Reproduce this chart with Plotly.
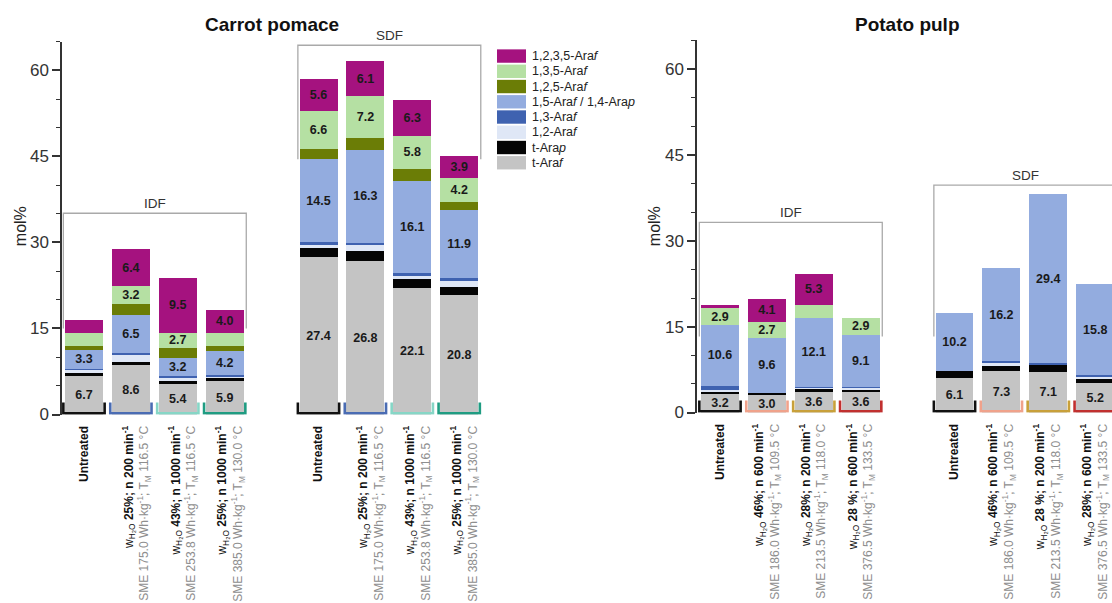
import plotly.graph_objects as go

W, H = 1112, 603
FONT = "Liberation Sans, Arial, sans-serif"

# ---- stack components, bottom to top ----
series_names = [
    "t-Ara<i>f</i>",
    "t-Ara<i>p</i>",
    "1,2-Ara<i>f</i>",
    "1,3-Ara<i>f</i>",
    "1,5-Ara<i>f</i> / 1,4-Ara<i>p</i>",
    "1,2,5-Ara<i>f</i>",
    "1,3,5-Ara<i>f</i>",
    "1,2,3,5-Ara<i>f</i>",
]
series_colors = ["#c4c4c4", "#050505", "#dfe7f6", "#3f62b0",
                 "#93acdf", "#6b7d06", "#b5e0a3", "#a5127f"]

# bar slots: IDF samples 0-3, SDF samples 5-8
positions = [0, 1, 2, 3, 5, 6, 7, 8]

# ---- Carrot pomace (mol%) ----
carrot_t_araf = [6.7, 8.6, 5.4, 5.9, 27.4, 26.8, 22.1, 20.8]
carrot_t_arap = [0.6, 0.6, 0.4, 0.4, 1.6, 1.7, 1.6, 1.5]
carrot_a12 = [0.5, 1.3, 0.7, 0.4, 0.5, 1.1, 0.4, 1.0]
carrot_a13 = [0.2, 0.3, 0.2, 0.2, 0.5, 0.3, 0.5, 0.5]
carrot_a15 = [3.3, 6.5, 3.2, 4.2, 14.5, 16.3, 16.1, 11.9]
carrot_a125 = [0.6, 1.9, 1.7, 0.8, 1.8, 2.1, 2.1, 1.3]
carrot_a135 = [2.4, 3.2, 2.7, 2.4, 6.6, 7.2, 5.8, 4.2]
carrot_a1235 = [2.1, 6.4, 9.5, 4.0, 5.6, 6.1, 6.3, 3.9]

# which segments carry a value label (1 = labelled)
carrot_lab_t_araf = [1, 1, 1, 1, 1, 1, 1, 1]
carrot_lab_a15 = [1, 1, 1, 1, 1, 1, 1, 1]
carrot_lab_a135 = [0, 1, 1, 0, 1, 1, 1, 1]
carrot_lab_a1235 = [0, 1, 1, 1, 1, 1, 1, 1]

# ---- Potato pulp (mol%) ----
potato_t_araf = [3.2, 3.0, 3.6, 3.6, 6.1, 7.3, 7.1, 5.2]
potato_t_arap = [0.5, 0.4, 0.5, 0.4, 1.1, 0.9, 1.3, 0.7]
potato_a12 = [0.3, 0.0, 0.15, 0.4, 0.0, 0.5, 0.0, 0.4]
potato_a13 = [0.7, 0.1, 0.2, 0.1, 0.0, 0.3, 0.3, 0.3]
potato_a15 = [10.6, 9.6, 12.1, 9.1, 10.2, 16.2, 29.4, 15.8]
potato_a125 = [0.0, 0.0, 0.0, 0.0, 0.0, 0.0, 0.0, 0.0]
potato_a135 = [2.9, 2.7, 2.3, 2.9, 0.0, 0.0, 0.0, 0.0]
potato_a1235 = [0.5, 4.1, 5.3, 0.0, 0.0, 0.0, 0.0, 0.0]

potato_lab_t_araf = [1, 1, 1, 1, 1, 1, 1, 1]
potato_lab_a15 = [1, 1, 1, 1, 1, 1, 1, 1]
potato_lab_a135 = [1, 1, 0, 1, 0, 0, 0, 0]
potato_lab_a1235 = [0, 1, 1, 0, 0, 0, 0, 0]

# ---- treatment conditions for the category labels ----
carrot_w = ["25%", "43%", "25%"]
carrot_n = ["200", "1000", "1000"]
carrot_sme = ["175.0", "253.8", "385.0"]
carrot_tm = ["116.5", "116.5", "130.0"]

potato_idf_w = ["46%", "28%", "28 %"]
potato_sdf_w = ["46%", "28 %", "28%"]
potato_n = ["600", "200", "600"]
potato_sme = ["186.0", "213.5", "376.5"]
potato_tm = ["109.5", "118.0", "133.5"]

carrot_bracket_colors = ["#111111", "#4a6cb3", "#86d6c6", "#1f9c82"]
potato_bracket_colors = ["#111111", "#f0a28b", "#c8a03a", "#c1302f"]

# fraction brackets (IDF, SDF): top line and end of the side lines, mol%
carrot_group_top = [35.1, 64.4]
carrot_group_side = [15.0, 44.5]
potato_group_top = [33.2, 39.7]
potato_group_side = [13.3, 13.3]
group_names = ["IDF", "SDF"]


def px(x):
    return x / W


def py(y):
    return 1 - y / H


def treated(w, n, sme, tm):
    return (f"w<sub>H₂O</sub> <b>{w}; n {n} min<sup>-1</sup></b><br>"
            f"<span style='color:#8e8e8e'>SME {sme} Wh·kg<sup>-1</sup>; "
            f"T<sub>M</sub> {tm} °C</span>")


untreated = "<b>Untreated</b>"
carrot_ticks = [untreated] + [treated(*a) for a in zip(carrot_w, carrot_n, carrot_sme, carrot_tm)]
carrot_ticks = carrot_ticks + carrot_ticks
potato_ticks = ([untreated] + [treated(*a) for a in zip(potato_idf_w, potato_n, potato_sme, potato_tm)]
                + [untreated] + [treated(*a) for a in zip(potato_sdf_w, potato_n, potato_sme, potato_tm)])


def label_positions(shift):
    # two-line labels are nudged sideways from their bar centre
    return [p + (0.0 if i % 4 == 0 else shift) for i, p in enumerate(positions)]


carrot_series = [carrot_t_araf, carrot_t_arap, carrot_a12, carrot_a13,
                 carrot_a15, carrot_a125, carrot_a135, carrot_a1235]
carrot_labels = [carrot_lab_t_araf, None, None, None,
                 carrot_lab_a15, None, carrot_lab_a135, carrot_lab_a1235]
potato_series = [potato_t_araf, potato_t_arap, potato_a12, potato_a13,
                 potato_a15, potato_a125, potato_a135, potato_a1235]
potato_labels = [potato_lab_t_araf, None, None, None,
                 potato_lab_a15, None, potato_lab_a135, potato_lab_a1235]

fig = go.Figure()

for series, labels, xa, ya in [(carrot_series, carrot_labels, "x", "y"),
                               (potato_series, potato_labels, "x2", "y2")]:
    for k, vals in enumerate(series):
        bar = dict(
            x=positions, y=vals, name=series_names[k],
            marker=dict(color=series_colors[k], line=dict(width=0)),
            xaxis=xa, yaxis=ya, showlegend=False, hoverinfo="skip",
        )
        if labels[k] is not None:
            bar.update(
                text=[f"<b>{v:.1f}</b>" if f else None for v, f in zip(vals, labels[k])],
                textposition="inside", insidetextanchor="middle",
                textangle=0, constraintext="none",
                textfont=dict(family=FONT, size=12.5, color="#1a1a1a"),
            )
        fig.add_trace(go.Bar(**bar))

shapes = []
annotations = []

# coloured sample brackets under each bar
for xa, ya, cols in [("x", "y", carrot_bracket_colors), ("x2", "y2", potato_bracket_colors)]:
    for i, p in enumerate(positions):
        c = cols[i % 4]
        shapes.append(dict(
            type="path", xref=xa, yref=ya, layer="above",
            path=f"M {p - 0.44},2.1 L {p - 0.44},0.2 L {p + 0.44},0.2 L {p + 0.44},2.1",
            line=dict(color=c, width=2.6)))

# IDF / SDF fraction brackets
for xa, ya, tops, sides in [("x", "y", carrot_group_top, carrot_group_side),
                            ("x2", "y2", potato_group_top, potato_group_side)]:
    for g in range(2):
        x0 = positions[4 * g] - 0.44
        x1 = positions[4 * g + 3] + 0.46
        shapes.append(dict(
            type="path", xref=xa, yref=ya, layer="below",
            path=f"M {x0},{sides[g]} L {x0},{tops[g]} L {x1},{tops[g]} L {x1},{sides[g]}",
            line=dict(color="#a9a9a9", width=1.3)))
        annotations.append(dict(
            x=(x0 + x1) / 2, y=tops[g], xref=xa, yref=ya, text=group_names[g],
            showarrow=False, xanchor="center", yanchor="bottom",
            font=dict(family=FONT, size=13.5, color="#333333")))

# legend, top of the stack first
for i, k in enumerate(reversed(range(len(series_names)))):
    yc = 57 + 15.5 * i
    shapes.append(dict(type="rect", xref="paper", yref="paper",
                       x0=px(497), x1=px(526), y0=py(yc + 6.8), y1=py(yc - 6.8),
                       fillcolor=series_colors[k], line=dict(width=0)))
    annotations.append(dict(x=px(530), y=py(yc), xref="paper", yref="paper",
                            text=series_names[k], showarrow=False,
                            xanchor="left", yanchor="middle",
                            font=dict(family=FONT, size=12.5, color="#222222")))

# panel titles and y-axis titles
annotations += [
    dict(x=px(272), y=py(25), xref="paper", yref="paper", text="<b>Carrot pomace</b>",
         showarrow=False, xanchor="center", yanchor="middle",
         font=dict(family=FONT, size=19, color="#111111")),
    dict(x=px(907), y=py(25), xref="paper", yref="paper", text="<b>Potato pulp</b>",
         showarrow=False, xanchor="center", yanchor="middle",
         font=dict(family=FONT, size=19, color="#111111")),
    dict(x=px(20), y=py(230), xref="paper", yref="paper", text="mol%", textangle=-90,
         showarrow=False, xanchor="center", yanchor="middle",
         font=dict(family=FONT, size=16, color="#222222")),
    dict(x=px(654), y=py(230), xref="paper", yref="paper", text="mol%", textangle=-90,
         showarrow=False, xanchor="center", yanchor="middle",
         font=dict(family=FONT, size=16, color="#222222")),
]

yaxis_style = dict(
    range=[0, 65], showgrid=False, zeroline=False,
    showline=True, linecolor="#333333", linewidth=1.5,
    ticks="outside", ticklen=8, tickwidth=1.5, tickcolor="#333333",
    tickvals=[0, 15, 30, 45, 60],
    minor=dict(ticks="outside", ticklen=4, tickwidth=1.2, tickcolor="#333333", dtick=5),
    tickfont=dict(family=FONT, size=17, color="#333333"),
)
# no tick marks or grid on x, so the label anchors can be offset freely
xaxis_style = dict(
    showgrid=False, zeroline=False, showline=False, ticks="",
    tickangle=-90, ticklabelstandoff=8,
    tickfont=dict(family=FONT, size=12, color="#111111"),
)

fig.update_layout(
    width=W, height=H, autosize=False,
    margin=dict(l=0, r=0, t=0, b=0),
    paper_bgcolor="white", plot_bgcolor="white",
    barmode="stack", bargap=0.19,
    showlegend=False,
    xaxis=dict(xaxis_style, domain=[px(62), px(485)], range=[-0.469, 8.55],
               tickvals=label_positions(0.12), ticktext=carrot_ticks, anchor="y"),
    yaxis=dict(yaxis_style, domain=[py(421.5), py(42.5)], anchor="x"),
    xaxis2=dict(xaxis_style, domain=[px(697), 1.0], range=[-0.49, 8.358],
                tickvals=label_positions(0.0), ticktext=potato_ticks, anchor="y2"),
    yaxis2=dict(yaxis_style, domain=[py(419.5), py(41)], anchor="x2"),
    shapes=shapes, annotations=annotations,
    font=dict(family=FONT),
)

fig.write_html("out.html")
